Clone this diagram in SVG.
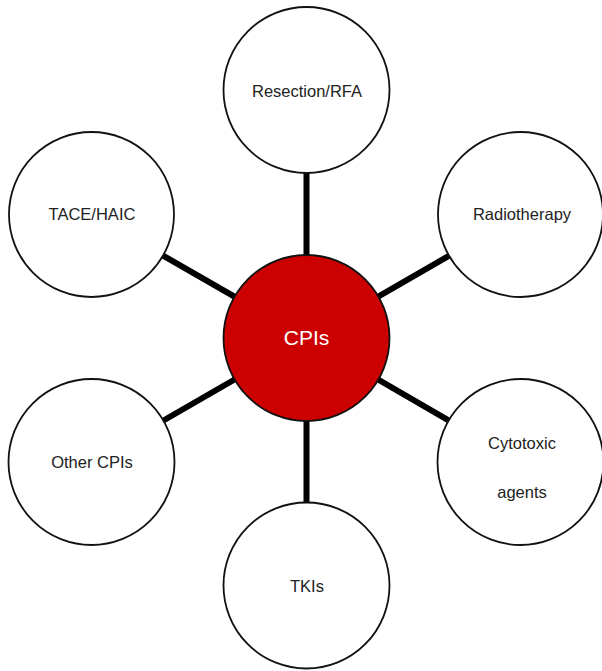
<svg xmlns="http://www.w3.org/2000/svg" width="602" height="671" viewBox="0 0 602 671">
<style>
.node{fill:#ffffff;stroke:#111111;stroke-width:1.8}
.hub{fill:#cc0000;stroke:#111111;stroke-width:1.8}
.lbl{font-family:"Liberation Sans",Arial,sans-serif;font-size:16.5px;fill:#222222;text-anchor:middle}
.hubl{font-family:"Liberation Sans",Arial,sans-serif;font-size:21px;fill:#ffffff;text-anchor:middle}
.conn{stroke:#000000;stroke-width:6;fill:none}
</style>
<rect width="602" height="671" fill="#ffffff"/>
<g id="connectors">
<line class="conn" x1="306.5" y1="338" x2="306.5" y2="90"/>
<line class="conn" x1="306.5" y1="338" x2="91.5" y2="214.5"/>
<line class="conn" x1="306.5" y1="338" x2="520.5" y2="214.5"/>
<line class="conn" x1="306.5" y1="338" x2="91.5" y2="462"/>
<line class="conn" x1="306.5" y1="338" x2="520.5" y2="462"/>
<line class="conn" x1="306.5" y1="338" x2="306.5" y2="585.5"/>
</g>
<g id="resection">
<circle class="node" cx="306.5" cy="90" r="83"/>
<text class="lbl" x="307" y="97">Resection/RFA</text>
</g>
<g id="tace">
<circle class="node" cx="91.5" cy="214.5" r="82.5"/>
<text class="lbl" x="92" y="220">TACE/HAIC</text>
</g>
<g id="radiotherapy">
<circle class="node" cx="520.5" cy="214.5" r="82.5"/>
<text class="lbl" x="522" y="220">Radiotherapy</text>
</g>
<g id="other">
<circle class="node" cx="91.5" cy="462" r="83"/>
<text class="lbl" x="92" y="468">Other CPIs</text>
</g>
<g id="cytotoxic">
<circle class="node" cx="520.5" cy="462" r="83"/>
<text class="lbl" x="522" y="449">Cytotoxic</text>
<text class="lbl" x="522" y="498">agents</text>
</g>
<g id="tkis">
<circle class="node" cx="306.5" cy="585.5" r="83"/>
<text class="lbl" x="307" y="592">TKIs</text>
</g>
<g id="cpis">
<circle class="hub" cx="306.5" cy="338" r="83"/>
<text class="hubl" x="306.5" y="345">CPIs</text>
</g>
</svg>
